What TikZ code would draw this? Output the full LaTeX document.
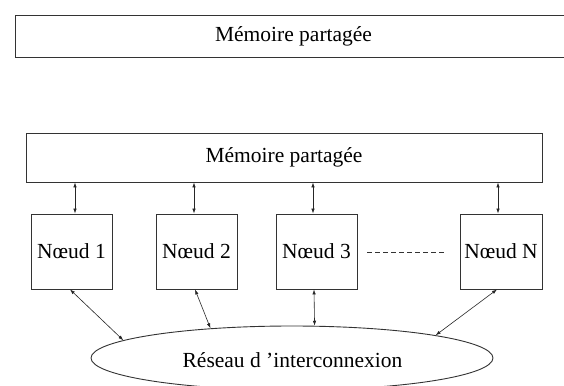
\documentclass[tikz,border=0pt]{standalone}
\usepackage{fontspec}
\setmainfont{Liberation Serif}
\usetikzlibrary{shapes.geometric,arrows.meta}
\tikzset{
  box/.style={draw=black!80, line width=0.9pt, inner sep=0pt, font=\fontsize{21.5}{24}\selectfont},
  arr/.style={{Latex[length=5pt,width=3.5pt]}-{Latex[length=5pt,width=3.5pt]}, line width=0.6pt, black!85},
  dotline/.style={dash pattern=on 5pt off 3pt, line width=0.6pt, black!80}
}
\begin{document}
\begin{tikzpicture}[x=1pt,y=-1pt]
\useasboundingbox (0,0) rectangle (564,385);
\begin{scope}
\clip (0,0) rectangle (564,385);
\node[box, minimum width=557pt, minimum height=42pt] (mem1) at (293.5,36) {Mémoire partagée};
\node[box, minimum width=516pt, minimum height=49pt] (mem2) at (284,157.5) {Mémoire partagée};
\node[box, minimum width=81pt, minimum height=75pt] (n1) at (71.5,251.5) {Nœud 1};
\node[box, minimum width=81pt, minimum height=75pt] (n2) at (196.5,251.5) {Nœud 2};
\node[box, minimum width=81pt, minimum height=75pt] (n3) at (316.5,251.5) {Nœud 3};
\node[box, minimum width=82pt, minimum height=75pt] (nN) at (501,251.5) {Nœud N};
\node[box, ellipse, minimum width=402pt, minimum height=64pt] (net) at (292,358) {};
\node[font=\fontsize{21.5}{24}\selectfont, inner sep=0pt] (netlbl) at (292.5,360) {Réseau d ’interconnexion};
\end{scope}
\draw[arr] ([xshift=3.5pt]n1.north) -- ([xshift=3.5pt]n1.north |- mem2.south);
\draw[arr] ([xshift=-2.5pt]n2.north) -- ([xshift=-2.5pt]n2.north |- mem2.south);
\draw[arr] ([xshift=-3.5pt]n3.north) -- ([xshift=-3.5pt]n3.north |- mem2.south);
\draw[arr] ([xshift=-3pt]nN.north) -- ([xshift=-3pt]nN.north |- mem2.south);
\draw[arr] ([xshift=-1.5pt]n1.south) -- (net.174.5);
\draw[arr] ([xshift=-1.5pt]n2.south) -- (net.160.9);
\draw[arr] ([xshift=-2.5pt]n3.south) -- (net.55.5);
\draw[arr] ([xshift=-4pt]nN.south) -- (net.9);
\draw[dotline] ([xshift=10pt,yshift=-0.5pt]n3.east) -- ([xshift=-13pt,yshift=-0.5pt]nN.west);
\end{tikzpicture}
\end{document}
